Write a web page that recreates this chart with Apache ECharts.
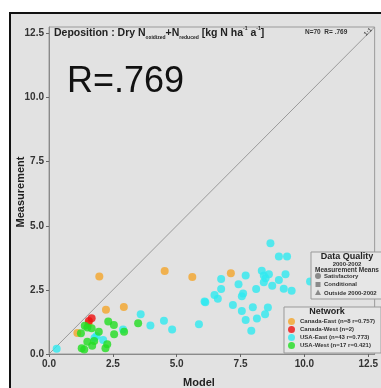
<!DOCTYPE html>
<html lang="en">
<head>
<meta charset="UTF-8">
<title>Deposition</title>
<script src="https://cdn.jsdelivr.net/npm/echarts@6/dist/echarts.min.js"></script>
<style>
  html, body { margin: 0; padding: 0; background: #fff; }
  #frame {
    position: absolute; left: 9px; top: 12px; width: 380px; height: 380px;
    background: #e2e2e2; border: 2px solid #111; box-sizing: border-box;
  }
  #chart { position: absolute; left: 0; top: 0; width: 381px; height: 388px; }
</style>
</head>
<body>
<div id="frame"></div>
<div id="chart"></div>
<script>
var canadaEast = [[1.11,0.82],[1.55,1.18],[2.23,1.73],[2.93,1.83],[1.97,3.02],[4.53,3.24],[5.61,3.0],[7.12,3.15]];
var canadaWest = [[1.56,1.29],[1.67,1.39]];
var usaEast = [
  [0.3,0.2],[1.86,0.70],[2.12,0.55],[2.90,0.96],[3.59,1.55],[3.97,1.11],[4.50,1.30],[4.82,0.96],[5.87,1.16],
  [6.12,2.02],[6.48,2.30],[6.61,2.15],[6.74,2.53],[6.74,2.92],[7.20,1.91],[7.42,2.72],
  [8.67,4.32],[9.00,3.80],[9.32,3.80],[7.70,3.06],[8.33,3.25],[8.41,3.06],[8.61,3.11],[9.26,3.11],
  [9.00,2.89],[8.41,2.80],[8.74,2.66],[9.19,2.54],[9.50,2.47],[8.11,2.53],[7.55,2.25],[7.60,2.36],
  [7.98,1.82],[8.57,1.81],[7.55,1.68],[8.46,1.55],[8.14,1.38],[7.70,1.33],[7.92,0.91],[10.22,2.83],
  [1.78,0.62],[6.09,2.05],[8.48,2.95]
];
var usaWest = [
  [2.32,1.27],[2.54,1.13],[1.50,1.03],[1.67,1.0],[1.25,0.81],[1.95,0.87],[2.55,0.77],[2.94,0.87],[3.49,1.20],
  [1.50,0.48],[1.77,0.51],[1.69,0.32],[2.28,0.38],[1.28,0.22],[1.38,0.18],[2.21,0.22],[1.40,1.10]
];
var oneToOne = [[0,0],[12.75,12.75]];
var tickValues = [0, 2.5, 5, 7.5, 10, 12.5];
var networkNames = ['Canada-East (n=8 r=0.757)', 'Canada-West (n=2)', 'USA-East (n=43 r=0.773)', 'USA-West (n=17 r=0.421)'];
var networkColors = ['#f4a52a', '#ee1010', '#30eaf0', '#22dd22'];

var chart = echarts.init(document.getElementById('chart'));

var ff = '"Liberation Sans", Arial, sans-serif';
function axisOpt() {
  return {
    type: 'value', min: 0, max: 12.75, interval: 2.5,
    axisLine: { show: true, lineStyle: { color: '#8a8a8a' } },
    axisTick: { show: true, length: 3, customValues: tickValues, lineStyle: { color: '#666' } },
    axisLabel: {
      customValues: tickValues, margin: 5,
      color: '#333', fontSize: 10, fontWeight: 'bold', fontFamily: ff,
      formatter: function (v) { return v.toFixed(1); }
    },
    splitLine: { show: false }
  };
}

var option = {
  animation: false,
  backgroundColor: 'transparent',
  textStyle: { fontFamily: ff },
  grid: { left: 49, top: 27, right: 3, bottom: 34, show: true, borderColor: '#9a9a9a', borderWidth: 1, backgroundColor: 'transparent' },
  xAxis: axisOpt(),
  yAxis: axisOpt(),
  legend: {
    data: networkNames,
    orient: 'vertical', left: 284, top: 307,
    padding: [11, 6, 4, 4],
    itemWidth: 7, itemHeight: 7, itemGap: 1,
    icon: 'circle',
    backgroundColor: '#e6e6e6', borderColor: '#999', borderWidth: 1,
    textStyle: { fontSize: 6, lineHeight: 7, fontWeight: 'bold', color: '#333', fontFamily: ff },
    selectedMode: false
  },
  graphic: [
    { type: 'text', z: 100, left: 54, top: 26, style: {
        text: '{b|Deposition : Dry N}{s|oxidized}{b|+N}{s|reduced}{b| [kg N ha}{p|-1}{b| a}{p|-1}{b|]}',
        rich: {
          b: { fontSize: 10.5, fontWeight: 'bold', lineHeight: 14, fill: '#222', fontFamily: ff },
          s: { fontSize: 5, fontWeight: 'bold', lineHeight: 8, verticalAlign: 'bottom', fill: '#222', fontFamily: ff },
          p: { fontSize: 5, fontWeight: 'bold', lineHeight: 8, verticalAlign: 'top', fill: '#222', fontFamily: ff }
        } } },
    { type: 'text', z: 100, left: 305, top: 29, style: { text: 'N=70  R= .769', fontSize: 6.5, fontWeight: 'bold', fill: '#333', fontFamily: ff } },
    { type: 'text', z: 100, x: 368, y: 32, rotation: Math.PI / 4, style: { text: '1:1', fontSize: 6, fontWeight: 'bold', fill: '#555', align: 'center', verticalAlign: 'middle', fontFamily: ff } },
    { type: 'text', z: 100, left: 67, top: 64, style: { text: 'R=.769', fontSize: 36, fill: '#111', fontFamily: ff } },
    { type: 'text', z: 100, x: 21, y: 192, rotation: Math.PI / 2, style: { text: 'Measurement', fontSize: 11, fontWeight: 'bold', fill: '#222', align: 'center', verticalAlign: 'middle', fontFamily: ff } },
    { type: 'text', z: 100, x: 199, y: 383, style: { text: 'Model', fontSize: 11, fontWeight: 'bold', fill: '#222', align: 'center', verticalAlign: 'middle', fontFamily: ff } },
    // network legend title
    { type: 'text', z: 100, x: 327, y: 312, style: { text: 'Network', fontSize: 9, fontWeight: 'bold', fill: '#222', align: 'center', verticalAlign: 'middle', fontFamily: ff } },
    // data quality legend
    { type: 'group', z: 100, children: [
      { type: 'rect', z: 100, shape: { x: 311, y: 252, width: 80, height: 47 }, style: { fill: '#e6e6e6', stroke: '#999', lineWidth: 1 } },
      { type: 'text', z: 101, x: 347, y: 257, style: { text: 'Data Quality', fontSize: 9, fontWeight: 'bold', fill: '#222', align: 'center', verticalAlign: 'middle', fontFamily: ff } },
      { type: 'text', z: 101, x: 347, y: 264, style: { text: '2000-2002', fontSize: 6, fontWeight: 'bold', fill: '#333', align: 'center', verticalAlign: 'middle', fontFamily: ff } },
      { type: 'text', z: 101, x: 347, y: 270, style: { text: 'Measurement Means', fontSize: 6.5, fontWeight: 'bold', fill: '#333', align: 'center', verticalAlign: 'middle', fontFamily: ff } },
      { type: 'circle', z: 101, shape: { cx: 318, cy: 276, r: 3 }, style: { fill: '#8a8a8a' } },
      { type: 'rect', z: 101, shape: { x: 315.5, y: 282, width: 5, height: 5 }, style: { fill: '#8a8a8a' } },
      { type: 'polygon', z: 101, shape: { points: [[318, 289.5], [321, 295], [315, 295]] }, style: { fill: '#8a8a8a' } },
      { type: 'text', z: 101, x: 324, y: 276, style: { text: 'Satisfactory', fontSize: 6, fontWeight: 'bold', fill: '#333', verticalAlign: 'middle', fontFamily: ff } },
      { type: 'text', z: 101, x: 324, y: 284.5, style: { text: 'Conditional', fontSize: 6, fontWeight: 'bold', fill: '#333', verticalAlign: 'middle', fontFamily: ff } },
      { type: 'text', z: 101, x: 324, y: 293, style: { text: 'Outside 2000-2002', fontSize: 6, fontWeight: 'bold', fill: '#333', verticalAlign: 'middle', fontFamily: ff } }
    ] }
  ],
  series: [
    { name: '1:1', type: 'line', data: oneToOne, symbol: 'none', silent: true, z: 1,
      lineStyle: { color: '#9a9a9a', width: 1 } },
    { name: networkNames[0], type: 'scatter', data: canadaEast, symbolSize: 8, itemStyle: { color: networkColors[0] } },
    { name: networkNames[1], type: 'scatter', data: canadaWest, symbolSize: 8, itemStyle: { color: networkColors[1] } },
    { name: networkNames[2], type: 'scatter', data: usaEast, symbolSize: 8, itemStyle: { color: networkColors[2] } },
    { name: networkNames[3], type: 'scatter', data: usaWest, symbolSize: 8, itemStyle: { color: networkColors[3] } }
  ]
};
chart.setOption(option);
</script>
</body>
</html>
